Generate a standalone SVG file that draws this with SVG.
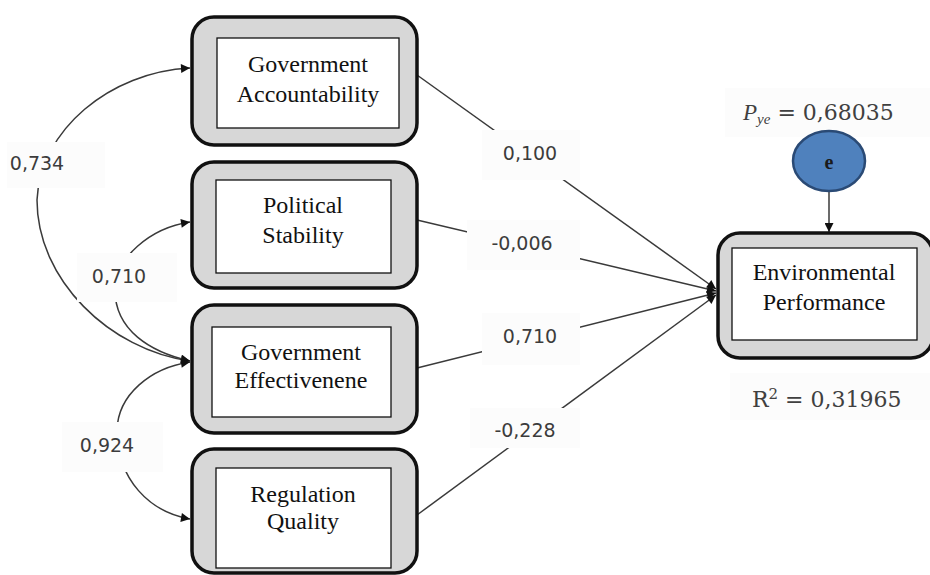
<svg xmlns="http://www.w3.org/2000/svg" width="930" height="575" viewBox="0 0 930 575">
<style>
.outer{fill:#d7d7d7;stroke:#111;stroke-width:3.5}
.inner{fill:#fff;stroke:#111;stroke-width:1.3}
.nt{font-family:"Liberation Serif","Times New Roman",serif;font-size:24px;fill:#111;text-anchor:middle}
.lb{fill:#fcfcfc}
.lt{font-family:"DejaVu Sans",sans-serif;font-size:19px;fill:#3c3c3c;text-anchor:middle}
.st{font-family:"DejaVu Serif",serif;font-size:22px;fill:#404040}
.c{fill:none;stroke:#3a3a3a;stroke-width:1.5}
</style>
<defs>
<marker id="ah" viewBox="0 0 10 10" refX="10" refY="5" markerWidth="11" markerHeight="9" markerUnits="userSpaceOnUse" orient="auto-start-reverse">
<path d="M0,0 L10,5 L0,10 z" fill="#111"/>
</marker>
</defs>
<rect width="930" height="575" fill="#fff"/>
<g id="connectors">
<path class="c" d="M417,75 L716,289" marker-end="url(#ah)"/>
<path class="c" d="M417,220 L716,291" marker-end="url(#ah)"/>
<path class="c" d="M417,368 L716,293" marker-end="url(#ah)"/>
<path class="c" d="M417,515 L716,295" marker-end="url(#ah)"/>
<path class="c" d="M190,68 C110,72 40,130 37,200 C37,280 110,350 190,361" marker-start="url(#ah)" marker-end="url(#ah)"/>
<path class="c" d="M190,222 C150,228 115,258 115,290 C115,330 150,352 190,361" marker-start="url(#ah)" marker-end="url(#ah)"/>
<path class="c" d="M190,362 C150,368 118,395 117,430 C117,480 150,512 190,519" marker-start="url(#ah)" marker-end="url(#ah)"/>
<path class="c" d="M829,191 L829,232" marker-end="url(#ah)"/>
</g>
<g id="labels">
<rect class="lb" x="7" y="142" width="98" height="46"/>
<text class="lt" x="37" y="170">0,734</text>
<rect class="lb" x="77" y="253" width="100" height="49"/>
<text class="lt" x="119" y="283">0,710</text>
<rect class="lb" x="62" y="422" width="101" height="50"/>
<text class="lt" x="107" y="452">0,924</text>
<rect class="lb" x="482" y="130" width="98" height="50"/>
<text class="lt" x="530" y="160">0,100</text>
<rect class="lb" x="467" y="220" width="113" height="50"/>
<text class="lt" x="522" y="250">-0,006</text>
<rect class="lb" x="482" y="313" width="98" height="52"/>
<text class="lt" x="530" y="343">0,710</text>
<rect class="lb" x="470" y="408" width="110" height="40"/>
<text class="lt" x="525" y="437">-0,228</text>
<rect class="lb" x="725" y="88" width="205" height="49"/>
<text class="st" x="743" y="120"><tspan font-family="Liberation Serif" font-style="italic" font-size="23">P</tspan><tspan font-family="Liberation Serif" font-style="italic" font-size="15" dy="4">ye</tspan><tspan dy="-4"> = 0,68035</tspan></text>
<rect class="lb" x="730" y="373" width="200" height="47"/>
<text class="st" x="752" y="407">R<tspan font-size="15" dy="-8">2</tspan><tspan dy="8"> = 0,31965</tspan></text>
</g>
<g id="n-accountability">
<rect class="outer" x="192" y="17" width="225" height="128" rx="22"/>
<rect class="inner" x="217" y="38" width="182" height="90"/>
<text class="nt" x="308" y="72">Government</text>
<text class="nt" x="308" y="102">Accountability</text>
</g>
<g id="n-stability">
<rect class="outer" x="192" y="162" width="225" height="126" rx="22"/>
<rect class="inner" x="216" y="180" width="175" height="93"/>
<text class="nt" x="303" y="213">Political</text>
<text class="nt" x="303" y="243">Stability</text>
</g>
<g id="n-effectiveness">
<rect class="outer" x="192" y="305" width="225" height="128" rx="22"/>
<rect class="inner" x="212" y="327" width="179" height="90"/>
<text class="nt" x="301" y="360">Government</text>
<text class="nt" x="301" y="388">Effectivenene</text>
</g>
<g id="n-regulation">
<rect class="outer" x="192" y="449" width="225" height="124" rx="22"/>
<rect class="inner" x="216" y="468" width="175" height="100"/>
<text class="nt" x="303" y="502">Regulation</text>
<text class="nt" x="303" y="529">Quality</text>
</g>
<g id="n-environmental">
<rect class="outer" x="718" y="233" width="215" height="125" rx="22"/>
<rect class="inner" x="732" y="248" width="185" height="92"/>
<text class="nt" x="824" y="280">Environmental</text>
<text class="nt" x="824" y="310">Performance</text>
</g>
<g id="n-e">
<ellipse cx="829" cy="161" rx="36" ry="30" fill="#4f81bd" stroke="#2a4a75" stroke-width="2.5"/>
<text x="829" y="169" font-family="Liberation Serif,serif" font-size="20" font-weight="bold" fill="#1a1a1a" text-anchor="middle">e</text>
</g>
</svg>
